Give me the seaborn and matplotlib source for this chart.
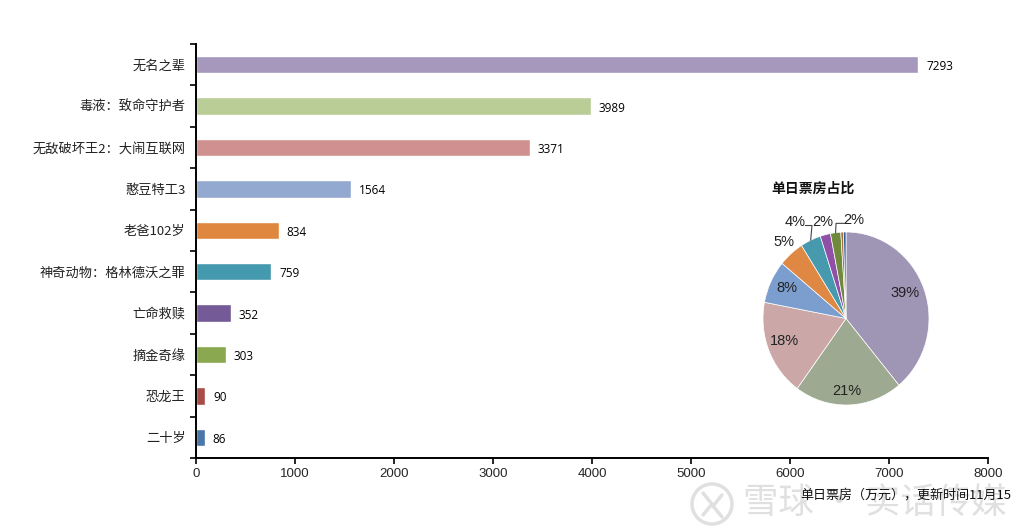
import matplotlib
matplotlib.use('Agg')
import matplotlib.pyplot as plt
from matplotlib.patches import Circle
from matplotlib.lines import Line2D
import numpy as np
import pandas as pd
import seaborn as sns

# box office data
movies = ['无名之辈', '毒液：致命守护者', '无敌破坏王2：大闹互联网', '憨豆特工3', '老爸102岁',
          '神奇动物：格林德沃之罪', '亡命救赎', '摘金奇缘', '恐龙王', '二十岁']
box_office = [7293, 3989, 3371, 1564, 834, 759, 352, 303, 90, 86]
bar_colors = ['#A598BC', '#BACD96', '#D09090', '#93A9CF', '#E0873F',
              '#4499AF', '#745A96', '#8AA84F', '#A84C48', '#4A76A8']

pie_values = [39, 21, 18, 8, 5, 4, 2, 2, 0.5, 0.5]
pie_labels = ['39%', '21%', '18%', '8%', '5%', '4%', '2%', '2%', '', '']
pie_colors = ['#9F95B5', '#9DAA91', '#CBA7A7', '#7B9ECF', '#DE8844',
              '#4799AD', '#9050A8', '#6F8A3C', '#A86B3A', '#2F5FA0']
# label position relative to pie centre, in pie radii
label_pos = [(0.71, 0.29), (0.01, -0.84), (-0.74, -0.26), (-0.71, 0.35),
             (-0.75, 0.88), (-0.61, 1.12), (-0.28, 1.12), (0.09, 1.14)]

W, H = 1016, 530

sns.set_theme(style='white')
plt.rcParams['font.family'] = ['Noto Sans CJK SC', 'DejaVu Sans']
plt.rcParams['axes.unicode_minus'] = False

df = pd.DataFrame({'movie': movies, 'value': box_office})

fig = plt.figure(figsize=(W / 100, H / 100), dpi=100)
ax = fig.add_axes([196 / W, 1 - 458 / H, (988 - 196) / W, (458 - 44) / H])

sns.barplot(data=df, x='value', y='movie', hue='movie', palette=bar_colors,
            legend=False, width=0.42, saturation=1, ax=ax)

ax.set_xlim(0, 8000)
ax.set_ylim(9.5, -0.5)
ax.set_xlabel('')
ax.set_ylabel('')
sns.despine(ax=ax)
for side in ['left', 'bottom']:
    ax.spines[side].set_color('black')
    ax.spines[side].set_linewidth(1.4)

ax.set_xticks(range(0, 8001, 1000))
ax.tick_params(axis='x', labelsize=9.5, length=4, width=1.2, color='black', bottom=True, pad=3)
ax.tick_params(axis='y', which='major', length=0, labelsize=9.5, pad=7.5)
ax.set_yticks(np.arange(-0.5, 10, 1), minor=True)
ax.tick_params(axis='y', which='minor', length=4, width=1.2, color='black', left=True)
for lab in ax.get_xticklabels():
    lab.set_family(['Liberation Sans'])
for lab in ax.get_yticklabels():
    lab.set_color('#222222')

for i, v in enumerate(box_office):
    ax.annotate(str(v), (v, i), xytext=(8, -2), textcoords='offset pixels', va='center',
                fontsize=8.5, family=['Open Sans'], color='black')

# inset pie, slightly taller than wide like the original
cx, cy, rx, ry = 846, 318.5, 83, 86.5
pax = fig.add_axes([(cx - rx) / W, 1 - (cy + ry) / H, 2 * rx / W, 2 * ry / H])
wedges, _ = pax.pie(pie_values, colors=pie_colors, startangle=90, counterclock=False,
                    wedgeprops={'linewidth': 0.5, 'edgecolor': 'white'})
pax.set_aspect('auto')
pax.set_xlim(-1, 1)
pax.set_ylim(-1, 1)

for lab, pos in zip(pie_labels, label_pos):
    pax.text(pos[0], pos[1], lab, ha='center', va='center', fontsize=10.5,
             family=['Liberation Sans'], color='#222222', clip_on=False)

# leader lines for the 4% and last 2% slices
for idx, elbow, end in [(5, (-0.41, 1.075), (-0.49, 1.075)),
                        (7, (-0.12, 1.10), (-0.01, 1.10))]:
    theta = np.deg2rad((wedges[idx].theta1 + wedges[idx].theta2) / 2)
    edge = (np.cos(theta), np.sin(theta))
    pax.plot([edge[0], elbow[0], end[0]], [edge[1], elbow[1], end[1]],
             color='#444444', lw=0.8, clip_on=False)

fig.text(813 / W, 1 - 189 / H, '单日票房占比', ha='center', va='center',
         fontsize=10, fontweight='bold', color='#111111')

# watermark
wm = '#E0E0E0'
fig.add_artist(Circle((712, H - 504), 20, transform=None, fill=False, ec=wm, lw=2.5))
fig.add_artist(Line2D([703 / W, 712 / W, 703 / W], [1 - 493 / H, 1 - 504 / H, 1 - 515 / H], color=wm, lw=2.5))
fig.add_artist(Line2D([722 / W, 713 / W, 722 / W], [1 - 495 / H, 1 - 506 / H, 1 - 517 / H], color=wm, lw=2.5))
fig.text(743 / W, 1 - 503 / H, '雪球 • 实话传媒', ha='left', va='center', fontsize=25.5, color=wm)

fig.text(800 / W, 1 - 495 / H, '单日票房（万元），更新时间11月15', ha='left', va='center',
         fontsize=9.4, color='#111111')

fig.savefig('out.png', dpi=100)
